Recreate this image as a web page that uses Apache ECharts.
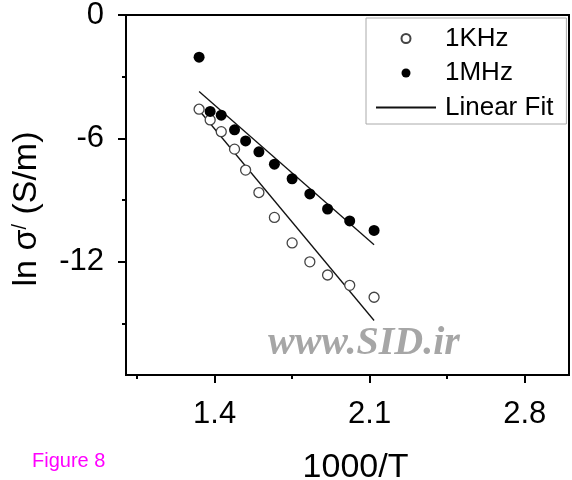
<!DOCTYPE html>
<html>
<head>
<meta charset="utf-8">
<script src="https://cdn.jsdelivr.net/npm/echarts@6/dist/echarts.min.js"></script>
<style>
  html, body { margin: 0; padding: 0; background: #fff; }
  #chart { width: 572px; height: 480px; }
</style>
</head>
<body>
<div id="chart"></div>
<script>
// Reciprocal temperature (1000/T) for each measurement
const invT = [1.33, 1.38, 1.43, 1.49, 1.54, 1.60, 1.67, 1.75, 1.83, 1.91, 2.01, 2.12];
// ln of real conductivity at 1 kHz and 1 MHz
const lnSigma1k = [-4.58, -5.10, -5.67, -6.52, -7.54, -8.63, -9.84, -11.08, -12.00, -12.64, -13.14, -13.72];
const lnSigma1M = [-2.05, -4.69, -4.87, -5.58, -6.12, -6.65, -7.25, -7.96, -8.70, -9.43, -10.01, -10.47];
// Linear fit end points
const fitX = [1.33, 2.12];
const fit1k = [-4.63, -14.85];
const fit1M = [-3.72, -11.17];
// Axis ticks
const xMajorTicks = [1.4, 2.1, 2.8];
const xMinorTicks = [1.05, 1.75, 2.45];
const yMajorTicks = [0, -6, -12];
const yMinorTicks = [-3, -9, -15];

const pairs = (xs, ys) => xs.map((x, i) => [x, ys[i]]);
const FONT = '"Liberation Sans", Arial, sans-serif';

const chart = echarts.init(document.getElementById('chart'));
chart.setOption({
  animation: false,
  backgroundColor: '#fff',
  textStyle: { fontFamily: FONT },
  grid: {
    left: 126, right: 3, top: 15, bottom: 105,
    outerBoundsMode: 'none', containLabel: false,
    show: true, borderColor: '#000', borderWidth: 2, backgroundColor: '#fff'
  },
  legend: {
    orient: 'vertical', left: 366, top: 18,
    padding: [7, 13, 3, 9], itemGap: 7.5, itemWidth: 60, itemHeight: 9,
    borderColor: '#aaa', borderWidth: 1, backgroundColor: '#fff',
    textStyle: { fontSize: 26, color: '#000', lineHeight: 27, padding: [0, 0, 0, 4], fontFamily: FONT },
    data: ['1KHz', '1MHz', 'Linear Fit']
  },
  xAxis: [{
    type: 'value', min: 1, max: 3, position: 'bottom',
    axisLine: { onZero: false, lineStyle: { color: '#000', width: 2 } },
    axisTick: { customValues: xMajorTicks, length: 8, lineStyle: { color: '#000', width: 2 } },
    axisLabel: { customValues: xMajorTicks, fontSize: 31, margin: 24, color: '#000', fontFamily: FONT },
    splitLine: { show: false },
    name: '1000/T', nameLocation: 'middle', nameGap: 76,
    nameTextStyle: { fontSize: 34, color: '#000', padding: [0, 0, 0, 16], fontFamily: FONT }
  }, {
    type: 'value', min: 1, max: 3, position: 'bottom',
    axisLine: { show: false, onZero: false },
    axisTick: { customValues: xMinorTicks, length: 4, lineStyle: { color: '#000', width: 2 } },
    axisLabel: { show: false },
    splitLine: { show: false }
  }],
  yAxis: [{
    type: 'value', min: -17.5, max: 0, position: 'left',
    axisLine: { onZero: false, lineStyle: { color: '#000', width: 2 } },
    axisTick: { customValues: yMajorTicks, length: 8, lineStyle: { color: '#000', width: 2 } },
    axisLabel: { customValues: yMajorTicks, fontSize: 31, margin: 22, color: '#000', fontFamily: FONT },
    splitLine: { show: false },
    name: '{a|ln σ}{p|/}{a| (S/m)}', nameLocation: 'middle', nameGap: 82,
    nameTextStyle: {
      color: '#000', padding: [0, 28, 0, 0],
      rich: {
        a: { fontSize: 34, color: '#000', fontFamily: FONT },
        p: { fontSize: 20, color: '#000', verticalAlign: 'top', fontFamily: FONT }
      }
    }
  }, {
    type: 'value', min: -17.5, max: 0, position: 'left',
    axisLine: { show: false, onZero: false },
    axisTick: { customValues: yMinorTicks, length: 4, lineStyle: { color: '#000', width: 2 } },
    axisLabel: { show: false },
    splitLine: { show: false }
  }],
  series: [{
    name: '1KHz', type: 'scatter', symbol: 'circle', symbolSize: 10,
    itemStyle: { color: '#fff', borderColor: '#444', borderWidth: 1.3, opacity: 1 },
    data: pairs(invT, lnSigma1k), z: 3
  }, {
    name: '1MHz', type: 'scatter', symbol: 'circle', symbolSize: 11,
    itemStyle: { color: '#000', opacity: 1 },
    data: pairs(invT, lnSigma1M), z: 3
  }, {
    name: 'Linear Fit', type: 'line', symbol: 'none',
    itemStyle: { color: '#111', opacity: 0 },
    lineStyle: { color: '#111', width: 1.3, opacity: 1 },
    data: pairs(fitX, fit1M), z: 2
  }, {
    name: 'Linear Fit', type: 'line', symbol: 'none',
    itemStyle: { color: '#111', opacity: 0 },
    lineStyle: { color: '#111', width: 1.3, opacity: 1 },
    data: pairs(fitX, fit1k), z: 2
  }],
  graphic: [{
    type: 'text', x: 268, y: 344, z: 10,
    style: {
      text: 'www.SID.ir', fill: '#a6a6a6',
      font: 'italic bold 40px "Liberation Serif", "Times New Roman", serif',
      verticalAlign: 'middle'
    }
  }, {
    type: 'text', x: 32, y: 461,
    style: {
      text: 'Figure 8', fill: '#ff00ff',
      font: '20px "Liberation Sans", Arial, sans-serif',
      verticalAlign: 'middle'
    }
  }]
});
</script>
</body>
</html>
